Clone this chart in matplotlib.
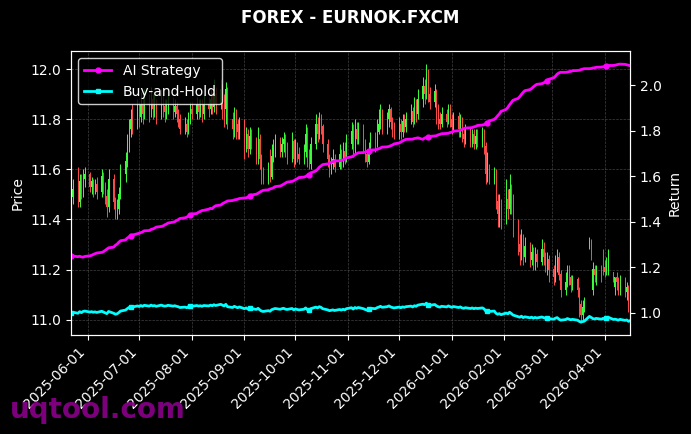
import numpy as np
import pandas as pd
import matplotlib
matplotlib.use('Agg')
import matplotlib.pyplot as plt
import matplotlib.dates as mdates

title = 'FOREX - EURNOK.FXCM'
dates = pd.bdate_range('2025-05-22', '2026-04-16')

# daily OHLC, one row per week (Thu..Wed)
opens = [
    11.52, 11.49, 11.52, 11.47, 11.55,
    11.50, 11.56, 11.58, 11.53, 11.55,
    11.52, 11.54, 11.51, 11.57, 11.53,
    11.49, 11.45, 11.56, 11.47, 11.42,
    11.44, 11.50, 11.58, 11.63, 11.70,
    11.76, 11.80, 11.78, 11.84, 11.81,
    11.86, 11.82, 11.87, 11.83, 11.88,
    11.84, 11.86, 11.82, 11.88, 11.85,
    11.83, 11.84, 11.87, 11.83, 11.85,
    11.82, 11.80, 11.76, 11.78, 11.75,
    11.80, 11.84, 11.82, 11.86, 11.83,
    11.85, 11.82, 11.86, 11.84, 11.88,
    11.85, 11.90, 11.86, 11.92, 11.88,
    11.84, 11.92, 11.80, 11.76, 11.82,
    11.78, 11.75, 11.79, 11.70, 11.74,
    11.68, 11.73, 11.71, 11.66, 11.72,
    11.64, 11.58, 11.56, 11.60, 11.57,
    11.65, 11.68, 11.71, 11.67, 11.70,
    11.72, 11.68, 11.66, 11.71, 11.64,
    11.69, 11.66, 11.64, 11.67, 11.74,
    11.65, 11.62, 11.70, 11.78, 11.74,
    11.80, 11.77, 11.70, 11.64, 11.60,
    11.62, 11.64, 11.61, 11.66, 11.63,
    11.67, 11.64, 11.70, 11.75, 11.68,
    11.76, 11.72, 11.76, 11.70, 11.66,
    11.63, 11.68, 11.72, 11.70, 11.75,
    11.78, 11.82, 11.77, 11.80, 11.84,
    11.79, 11.76, 11.74, 11.78, 11.75,
    11.79, 11.77, 11.80, 11.83, 11.79,
    11.85, 11.82, 11.88, 11.93, 11.90,
    11.98, 11.90, 11.87, 11.91, 11.84,
    11.80, 11.78, 11.82, 11.79, 11.84,
    11.80, 11.77, 11.81, 11.76, 11.79,
    11.74, 11.72, 11.75, 11.71, 11.74,
    11.70, 11.73, 11.71, 11.74, 11.69,
    11.58, 11.60, 11.56, 11.58, 11.47,
    11.42, 11.45, 11.40, 11.48, 11.44,
    11.52, 11.46, 11.38, 11.30, 11.27,
    11.32, 11.25, 11.29, 11.24, 11.27,
    11.22, 11.26, 11.23, 11.28, 11.25,
    11.22, 11.24, 11.20, 11.17, 11.22,
    11.25, 11.18, 11.12, 11.15, 11.20,
    11.17, 11.14, 11.16, 11.12, 11.06,
    11.02, 11.05, 11.29, 11.31, 11.12,
    11.20, 11.16, 11.21, 11.27, 11.21,
    11.19, 11.20, 11.19, 11.13, 11.17,
    11.15, 11.12, 11.16, 11.11, 11.13,
    11.03,
]
highs = [
    11.54, 11.56, 11.61, 11.58, 11.58,
    11.60, 11.61, 11.59, 11.57, 11.56,
    11.56, 11.57, 11.60, 11.59, 11.55,
    11.52, 11.60, 11.58, 11.49, 11.48,
    11.53, 11.62, 11.67, 11.74, 11.80,
    11.84, 11.86, 11.88, 11.87, 11.91,
    11.89, 11.92, 11.90, 11.93, 11.90,
    11.90, 11.88, 11.92, 11.90, 11.88,
    11.88, 11.90, 11.89, 11.88, 11.87,
    11.84, 11.82, 11.81, 11.80, 11.83,
    11.87, 11.87, 11.89, 11.88, 11.88,
    11.88, 11.90, 11.89, 11.92, 11.91,
    11.96, 11.93, 11.96, 11.94, 11.90,
    11.95, 11.93, 11.83, 11.85, 11.84,
    11.80, 11.81, 11.80, 11.77, 11.76,
    11.77, 11.76, 11.73, 11.77, 11.74,
    11.66, 11.61, 11.63, 11.68, 11.70,
    11.72, 11.74, 11.73, 11.73, 11.75,
    11.74, 11.71, 11.75, 11.72, 11.72,
    11.71, 11.69, 11.70, 11.78, 11.77,
    11.68, 11.73, 11.82, 11.81, 11.83,
    11.82, 11.78, 11.72, 11.66, 11.65,
    11.68, 11.66, 11.70, 11.68, 11.71,
    11.71, 11.74, 11.79, 11.78, 11.80,
    11.79, 11.79, 11.78, 11.72, 11.68,
    11.71, 11.75, 11.75, 11.80, 11.84,
    11.86, 11.84, 11.83, 11.86, 11.85,
    11.81, 11.79, 11.81, 11.80, 11.82,
    11.82, 11.83, 11.86, 11.85, 11.89,
    11.88, 11.92, 11.97, 11.96, 12.02,
    12.00, 11.93, 11.94, 11.92, 11.86,
    11.83, 11.85, 11.84, 11.86, 11.86,
    11.82, 11.83, 11.83, 11.82, 11.81,
    11.77, 11.78, 11.77, 11.76, 11.76,
    11.76, 11.76, 11.77, 11.76, 11.71,
    11.67, 11.62, 11.61, 11.60, 11.50,
    11.50, 11.48, 11.56, 11.52, 11.58,
    11.54, 11.50, 11.40, 11.34, 11.36,
    11.34, 11.33, 11.31, 11.30, 11.29,
    11.29, 11.28, 11.32, 11.31, 11.27,
    11.27, 11.26, 11.22, 11.26, 11.28,
    11.27, 11.20, 11.19, 11.22, 11.22,
    11.18, 11.18, 11.17, 11.13, 11.08,
    11.08, 11.09, 11.33, 11.32, 11.23,
    11.22, 11.22, 11.22, 11.28, 11.24,
    11.25, 11.28, 11.19, 11.17, 11.19,
    11.17, 11.18, 11.17, 11.15, 11.14,
    11.14,
]
lows = [
    11.45, 11.46, 11.45, 11.45, 11.48,
    11.49, 11.53, 11.51, 11.50, 11.49,
    11.50, 11.48, 11.49, 11.50, 11.46,
    11.41, 11.43, 11.44, 11.40, 11.40,
    11.42, 11.48, 11.55, 11.61, 11.67,
    11.73, 11.74, 11.76, 11.77, 11.79,
    11.78, 11.80, 11.79, 11.81, 11.80,
    11.81, 11.78, 11.80, 11.81, 11.79,
    11.80, 11.82, 11.80, 11.81, 11.79,
    11.77, 11.74, 11.74, 11.73, 11.74,
    11.78, 11.80, 11.80, 11.80, 11.81,
    11.79, 11.80, 11.81, 11.82, 11.82,
    11.83, 11.82, 11.84, 11.80, 11.77,
    11.78, 11.76, 11.72, 11.73, 11.72,
    11.72, 11.72, 11.64, 11.67, 11.65,
    11.66, 11.68, 11.62, 11.62, 11.60,
    11.54, 11.54, 11.54, 11.55, 11.56,
    11.63, 11.65, 11.65, 11.65, 11.67,
    11.65, 11.62, 11.63, 11.61, 11.62,
    11.63, 11.62, 11.62, 11.65, 11.61,
    11.60, 11.60, 11.68, 11.71, 11.72,
    11.74, 11.67, 11.61, 11.57, 11.58,
    11.60, 11.59, 11.60, 11.60, 11.61,
    11.62, 11.63, 11.68, 11.65, 11.66,
    11.70, 11.70, 11.67, 11.63, 11.61,
    11.62, 11.66, 11.67, 11.69, 11.74,
    11.76, 11.74, 11.74, 11.77, 11.76,
    11.73, 11.72, 11.72, 11.72, 11.73,
    11.75, 11.75, 11.78, 11.77, 11.78,
    11.79, 11.80, 11.85, 11.86, 11.88,
    11.87, 11.84, 11.85, 11.78, 11.76,
    11.76, 11.77, 11.77, 11.78, 11.77,
    11.74, 11.75, 11.73, 11.73, 11.71,
    11.69, 11.70, 11.69, 11.69, 11.68,
    11.68, 11.69, 11.69, 11.66, 11.54,
    11.55, 11.54, 11.54, 11.44, 11.37,
    11.37, 11.36, 11.38, 11.40, 11.42,
    11.42, 11.33, 11.26, 11.22, 11.24,
    11.22, 11.23, 11.21, 11.22, 11.20,
    11.20, 11.21, 11.22, 11.22, 11.19,
    11.18, 11.15, 11.14, 11.15, 11.19,
    11.16, 11.09, 11.10, 11.13, 11.14,
    11.11, 11.12, 11.09, 11.01, 10.99,
    11.00, 11.03, 11.28, 11.24, 11.10,
    11.15, 11.14, 11.15, 11.18, 11.17,
    11.18, 11.18, 11.15, 11.10, 11.12,
    11.10, 11.10, 11.09, 11.08, 11.03,
    11.00,
]
closes = [
    11.49, 11.52, 11.47, 11.55, 11.50,
    11.56, 11.58, 11.53, 11.55, 11.52,
    11.54, 11.51, 11.57, 11.53, 11.49,
    11.45, 11.56, 11.47, 11.42, 11.44,
    11.50, 11.58, 11.63, 11.70, 11.76,
    11.80, 11.78, 11.84, 11.81, 11.86,
    11.82, 11.87, 11.83, 11.88, 11.84,
    11.86, 11.82, 11.88, 11.85, 11.83,
    11.84, 11.87, 11.83, 11.85, 11.82,
    11.80, 11.76, 11.78, 11.75, 11.80,
    11.84, 11.82, 11.86, 11.83, 11.85,
    11.82, 11.86, 11.84, 11.88, 11.85,
    11.90, 11.86, 11.92, 11.88, 11.84,
    11.92, 11.80, 11.76, 11.82, 11.78,
    11.75, 11.79, 11.70, 11.74, 11.68,
    11.73, 11.71, 11.66, 11.72, 11.64,
    11.58, 11.56, 11.60, 11.57, 11.65,
    11.68, 11.71, 11.67, 11.70, 11.72,
    11.68, 11.66, 11.71, 11.64, 11.69,
    11.66, 11.64, 11.67, 11.74, 11.65,
    11.62, 11.70, 11.78, 11.74, 11.80,
    11.77, 11.70, 11.64, 11.60, 11.62,
    11.64, 11.61, 11.66, 11.63, 11.67,
    11.64, 11.70, 11.75, 11.68, 11.76,
    11.72, 11.76, 11.70, 11.66, 11.63,
    11.68, 11.72, 11.70, 11.75, 11.78,
    11.82, 11.77, 11.80, 11.84, 11.79,
    11.76, 11.74, 11.78, 11.75, 11.79,
    11.77, 11.80, 11.83, 11.79, 11.85,
    11.82, 11.88, 11.93, 11.90, 11.98,
    11.90, 11.87, 11.91, 11.84, 11.80,
    11.78, 11.82, 11.79, 11.84, 11.80,
    11.77, 11.81, 11.76, 11.79, 11.74,
    11.72, 11.75, 11.71, 11.74, 11.70,
    11.73, 11.71, 11.74, 11.69, 11.58,
    11.60, 11.56, 11.58, 11.47, 11.42,
    11.45, 11.40, 11.48, 11.44, 11.52,
    11.46, 11.38, 11.30, 11.27, 11.32,
    11.25, 11.29, 11.24, 11.27, 11.22,
    11.26, 11.23, 11.28, 11.25, 11.22,
    11.24, 11.20, 11.17, 11.22, 11.25,
    11.18, 11.12, 11.15, 11.20, 11.17,
    11.14, 11.16, 11.12, 11.06, 11.02,
    11.05, 11.07, 11.31, 11.26, 11.20,
    11.18, 11.21, 11.17, 11.21, 11.19,
    11.22, 11.27, 11.16, 11.17, 11.15,
    11.12, 11.16, 11.11, 11.13, 11.06,
    11.10,
]

# AI strategy equity curve
strategy = [
    1.248, 1.250, 1.247, 1.249, 1.246,
    1.245, 1.248, 1.251, 1.253, 1.257,
    1.260, 1.263, 1.266, 1.269, 1.275,
    1.280, 1.286, 1.289, 1.297, 1.302,
    1.310, 1.317, 1.321, 1.329, 1.334,
    1.340, 1.342, 1.348, 1.350, 1.353,
    1.356, 1.361, 1.362, 1.367, 1.369,
    1.372, 1.377, 1.380, 1.382, 1.387,
    1.390, 1.395, 1.399, 1.401, 1.406,
    1.410, 1.415, 1.418, 1.421, 1.426,
    1.430, 1.435, 1.437, 1.443, 1.446,
    1.450, 1.451, 1.456, 1.460, 1.458,
    1.466, 1.471, 1.474, 1.480, 1.484,
    1.488, 1.492, 1.494, 1.497, 1.498,
    1.500, 1.503, 1.505, 1.506, 1.509,
    1.512, 1.518, 1.522, 1.526, 1.531,
    1.535, 1.539, 1.541, 1.545, 1.547,
    1.550, 1.555, 1.558, 1.561, 1.566,
    1.570, 1.575, 1.578, 1.581, 1.586,
    1.590, 1.595, 1.597, 1.600, 1.605,
    1.608, 1.616, 1.624, 1.631, 1.640,
    1.646, 1.652, 1.655, 1.658, 1.662,
    1.665, 1.668, 1.669, 1.670, 1.673,
    1.676, 1.682, 1.686, 1.690, 1.696,
    1.700, 1.704, 1.705, 1.707, 1.710,
    1.712, 1.716, 1.717, 1.719, 1.722,
    1.725, 1.729, 1.730, 1.732, 1.735,
    1.738, 1.743, 1.747, 1.751, 1.756,
    1.760, 1.763, 1.764, 1.764, 1.767,
    1.768, 1.770, 1.763, 1.769, 1.771,
    1.772, 1.776, 1.778, 1.779, 1.783,
    1.785, 1.788, 1.789, 1.790, 1.793,
    1.795, 1.799, 1.801, 1.803, 1.807,
    1.810, 1.813, 1.814, 1.815, 1.818,
    1.820, 1.824, 1.826, 1.828, 1.832,
    1.836, 1.844, 1.851, 1.858, 1.867,
    1.875, 1.886, 1.895, 1.904, 1.915,
    1.925, 1.935, 1.943, 1.951, 1.961,
    1.970, 1.977, 1.982, 1.987, 1.994,
    2.000, 2.005, 2.008, 2.011, 2.016,
    2.020, 2.027, 2.034, 2.041, 2.050,
    2.055, 2.058, 2.058, 2.059, 2.061,
    2.062, 2.065, 2.066, 2.067, 2.070,
    2.072, 2.074, 2.074, 2.075, 2.077,
    2.078, 2.080, 2.081, 2.082, 2.084,
    2.085, 2.088, 2.088, 2.089, 2.091,
    2.093, 2.094, 2.093, 2.091, 2.089,
    2.087,
]

o = np.array(opens)
h = np.array(highs)
l = np.array(lows)
c = np.array(closes)
h = np.maximum(h, np.maximum(o, c))
l = np.minimum(l, np.minimum(o, c))
buy_hold = c / c[0]

up_col = '#3cff3c'
dn_col = '#ff4b4b'
cols = np.where(c >= o, up_col, dn_col)

plt.style.use('dark_background')
fig, ax = plt.subplots(figsize=(6.91, 4.34), dpi=100)
fig.subplots_adjust(left=0.103, right=0.912, top=0.882, bottom=0.228)
fig.patch.set_facecolor('black')
ax.set_facecolor('black')

ax.vlines(dates, l, h, colors=cols, linewidth=0.7, zorder=2)
ax.bar(dates, np.abs(c - o) + 0.002, bottom=np.minimum(o, c), width=0.5,
       color=cols, linewidth=0, zorder=3)
ax.set_ylabel('Price', color='white')
ax.grid(True, linestyle='--', linewidth=0.5, color='gray', alpha=0.5)

ax2 = ax.twinx()
ax2.plot(dates, strategy, color='magenta', linewidth=2, marker='o',
         markersize=3.5, markevery=25, label='AI Strategy')
ax2.plot(dates, buy_hold, color='cyan', linewidth=2, marker='s',
         markersize=3.5, markevery=25, label='Buy-and-Hold')
ax2.set_ylabel('Return', color='white')

ax.set_xlim(dates[0], dates[-1])
ax.xaxis.set_major_locator(mdates.MonthLocator())
ax.xaxis.set_major_formatter(mdates.DateFormatter('%Y-%m-%d'))
plt.setp(ax.get_xticklabels(), rotation=45, ha='right')

for a in (ax, ax2):
    for s in a.spines.values():
        s.set_color('white')
    a.tick_params(colors='white')

leg = ax2.legend(loc='upper left', facecolor='black', edgecolor='white',
                 framealpha=0.8, fontsize=10)
for t in leg.get_texts():
    t.set_color('white')

ax.set_title(title, color='white', fontsize=12, fontweight='bold', pad=20)

fig.text(0.015, 0.038, 'uqtool.com', fontsize=20, fontweight='bold',
         color='#8b008b', alpha=0.9, va='baseline')

fig.savefig('out.png', dpi=100, facecolor='black')
